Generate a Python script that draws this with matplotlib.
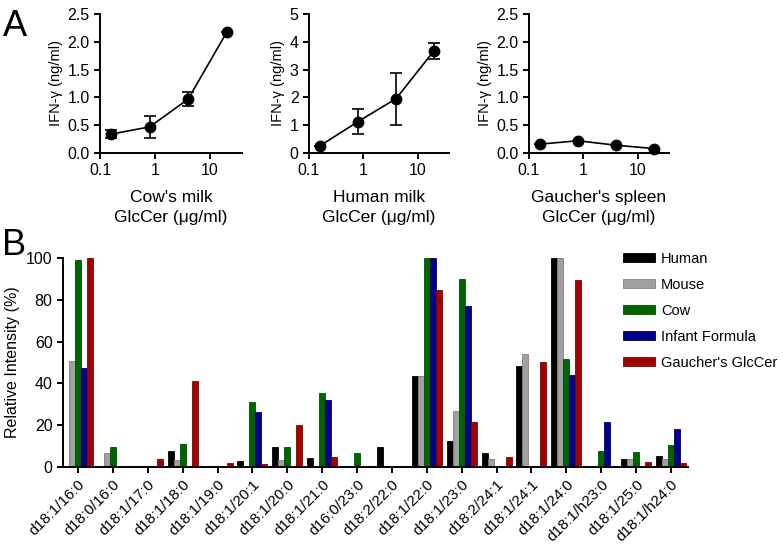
import matplotlib
matplotlib.use('Agg')
import matplotlib.pyplot as plt
import numpy as np

plt.rcParams['font.family'] = ['Liberation Sans', 'DejaVu Sans']

# panel A: IFN-gamma response vs GlcCer dose
dose = [0.16, 0.8, 4, 20]
cow_ifn = [0.34, 0.47, 0.97, 2.17]
cow_err = [0.07, 0.20, 0.12, 0.0]
human_ifn = [0.26, 1.13, 1.95, 3.67]
human_err = [0.0, 0.46, 0.93, 0.30]
gaucher_ifn = [0.16, 0.22, 0.14, 0.08]
gaucher_err = [0.0, 0.0, 0.0, 0.0]

# panel B: relative intensity of GlcCer species
species = ['d18:1/16:0', 'd18:0/16:0', 'd18:1/17:0', 'd18:1/18:0', 'd18:1/19:0',
           'd18:1/20:1', 'd18:1/20:0', 'd18:1/21:0', 'd16:0/23:0', 'd18:2/22:0',
           'd18:1/22:0', 'd18:1/23:0', 'd18:2/24:1', 'd18:1/24:1', 'd18:1/24:0',
           'd18:1/h23:0', 'd18:1/25:0', 'd18:1/h24:0']
human = [0, 0, 0, 7.4, 0, 2.9, 9.4, 4.3, 0, 9.3, 43.7, 12.5, 6.4, 48.5, 100, 0, 3.7, 5.0]
mouse = [50.7, 6.4, 0, 3.0, 0, 0, 3.2, 0, 0, 0, 43.7, 26.6, 3.5, 54.2, 100, 0, 3.7, 3.8]
cow = [99, 9.6, 0, 10.9, 0, 30.9, 9.4, 35.2, 6.6, 0, 100, 90, 0, 0, 51.5, 7.5, 7.0, 10.2]
infant = [47.2, 0, 0, 0, 0, 26.4, 0, 31.8, 0, 0, 100, 77.3, 0, 0, 44.2, 21.3, 0, 18.2]
gaucher = [100, 0, 3.5, 41.3, 1.6, 1.1, 19.8, 4.8, 0, 0, 84.8, 21.6, 4.6, 50.1, 89.4, 0, 2.2, 1.9]
series_names = ['Human', 'Mouse', 'Cow', 'Infant Formula', "Gaucher's GlcCer"]
series_colors = ['#000000', '#a0a0a0', '#006400', '#00008b', '#a00000']
edge_colors = ['#000000', '#808080', '#004d00', '#000066', '#800000']

W, H = 783, 546
fig = plt.figure(figsize=(W / 100, H / 100), dpi=100)


def rect(l, r, t, b):
    return [l / W, 1 - b / H, (r - l) / W, (b - t) / H]


def style(ax, size):
    for s in ['top', 'right']:
        ax.spines[s].set_visible(False)
    for s in ['left', 'bottom']:
        ax.spines[s].set_linewidth(1.4)
    ax.tick_params(direction='out', width=1.4, length=4, labelsize=size)


top = [(cow_ifn, cow_err, 2.5, [0, 0.5, 1.0, 1.5, 2.0, 2.5], '%.1f', "Cow's milk", (100, 242)),
       (human_ifn, human_err, 5, [0, 1, 2, 3, 4, 5], '%d', 'Human milk', (309, 449)),
       (gaucher_ifn, gaucher_err, 2.5, [0, 0.5, 1.0, 1.5, 2.0, 2.5], '%.1f', "Gaucher's spleen", (529, 669))]

for vals, errs, ymax, yt, fmt, name, (l, r) in top:
    ax = fig.add_axes(rect(l, r, 14, 153))
    ax.errorbar(dose, vals, yerr=errs, color='black', marker='o', markersize=7.5,
                linewidth=1.2, capsize=4, elinewidth=1.2, capthick=1.2, clip_on=False)
    ax.set_xscale('log')
    ax.set_xlim(0.1, 38)
    ax.set_ylim(0, ymax)
    ax.set_xticks([0.1, 1, 10])
    ax.set_xticklabels(['0.1', '1', '10'])
    ax.xaxis.set_minor_locator(matplotlib.ticker.NullLocator())
    ax.set_yticks(yt)
    ax.set_yticklabels([fmt % v for v in yt])
    ax.set_ylabel('IFN-γ (ng/ml)', fontsize=10.5, labelpad=3)
    ax.set_xlabel(name + '\nGlcCer (μg/ml)', fontsize=12.5, linespacing=1.45, labelpad=8)
    style(ax, 11.5)

fig.text(0.004, 1 - 36 / H, 'A', fontsize=26, va='baseline')
fig.text(0.002, 1 - 255 / H, 'B', fontsize=26, va='baseline')

# panel B
axb = fig.add_axes(rect(63, 688, 258.3, 466.7))
x = np.arange(len(species))
bw = 0.172
all_series = [human, mouse, cow, infant, gaucher]
for i, (vals, name) in enumerate(zip(all_series, series_names)):
    axb.bar(x + (i - 2) * bw, vals, width=bw, color=series_colors[i],
            edgecolor=edge_colors[i], linewidth=0.6, label=name)
axb.set_xlim(-0.43, 17.49)
axb.set_ylim(0, 100)
axb.set_yticks([0, 20, 40, 60, 80, 100])
axb.set_xticks(x)
axb.set_xticklabels(species, rotation=45, ha='right', rotation_mode='anchor', fontsize=11)
axb.set_ylabel('Relative Intensity (%)', fontsize=11.5, labelpad=4)
style(axb, 11.5)
axb.tick_params(axis='x', labelsize=11)
axb.legend(loc='upper left', bbox_to_anchor=(623 / W, 1 - 252 / H), bbox_transform=fig.transFigure,
           frameon=False, fontsize=10.5, borderpad=0, borderaxespad=0,
           handlelength=2.2, handleheight=0.6, labelspacing=0.82, handletextpad=0.4)

fig.savefig('out.png', dpi=100)
